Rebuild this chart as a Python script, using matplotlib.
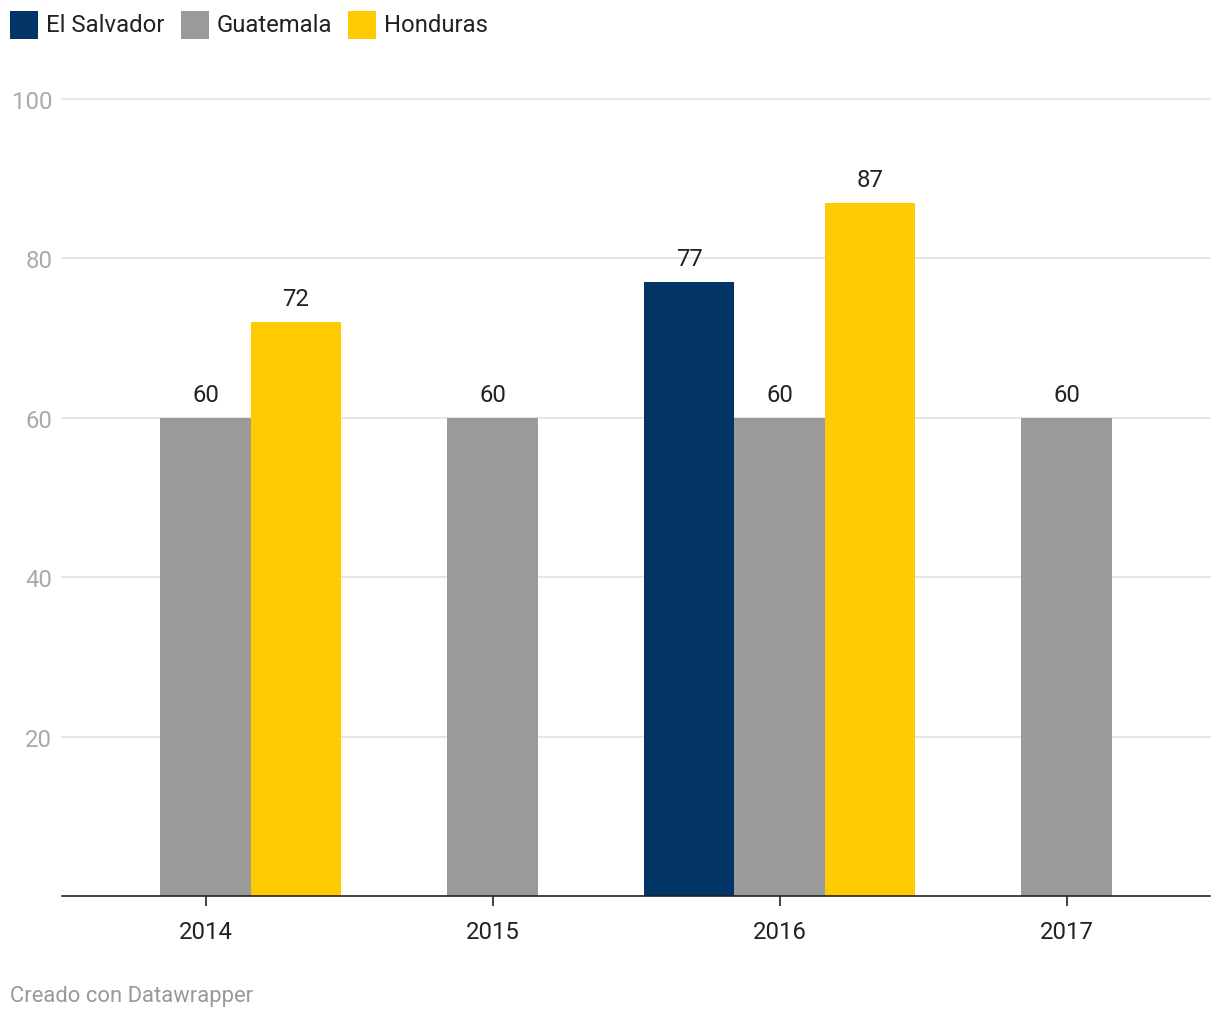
import numpy as np
import matplotlib.pyplot as plt
from matplotlib.patches import Rectangle

plt.rcParams['font.family'] = ['Roboto', 'DejaVu Sans']

# Datos
years = ['2014', '2015', '2016', '2017']
series_names = ['El Salvador', 'Guatemala', 'Honduras']
el_salvador = [None, None, 77, None]
guatemala = [60, 60, 60, 60]
honduras = [72, None, 87, None]
y_ticks = [20, 40, 60, 80, 100]

colors = ['#023465', '#9a9a9a', '#fecb00']
series = [el_salvador, guatemala, honduras]

W, H = 1220, 1020
FS = 17.2
fig = plt.figure(figsize=(W / 100, H / 100), dpi=100, facecolor='white')
ax = fig.add_axes([62 / W, 123 / H, (1210 - 62) / W, 797 / H])
ax.set_xlim(-0.5, len(years) - 0.5)
ax.set_ylim(0, 100)

# Grid
for t in y_ticks:
    ax.axhline(t, color='#e2e2e2', linewidth=1.2, zorder=0, clip_on=False)

bw = 0.315
x = np.arange(len(years))
for i, (vals, col) in enumerate(zip(series, colors)):
    off = (i - 1) * bw
    for xi, v in zip(x, vals):
        if v is None:
            continue
        ax.bar(xi + off, v, width=bw, color=col, zorder=2)
        ax.text(xi + off, v + 1.5, f"{v}", ha='center', va='bottom',
                fontsize=FS, color='#222222')

# Ejes
for s in ['top', 'right', 'left']:
    ax.spines[s].set_visible(False)
ax.spines['bottom'].set_color('#222222')
ax.spines['bottom'].set_linewidth(1.2)
ax.set_xticks(x)
ax.set_xticklabels(years, fontsize=FS, color='#222222')
ax.tick_params(axis='x', length=7, width=1.2, color='#222222', pad=10)
ax.set_yticks(y_ticks)
ax.set_yticklabels([str(t) for t in y_ticks], fontsize=FS, color='#aaaaaa')
ax.tick_params(axis='y', length=0, pad=7)

# Leyenda
lx = 10
for name, col in zip(series_names, colors):
    fig.patches.append(Rectangle((lx / W, 1 - 40 / H), 28 / W, 28 / H,
                                 transform=fig.transFigure, facecolor=col,
                                 edgecolor='none'))
    t = fig.text((lx + 36) / W, 1 - 26 / H, name, fontsize=FS,
                 color='#222222', va='center', ha='left')
    fig.canvas.draw()
    bb = t.get_window_extent()
    lx = bb.x1 + 16

# Pie
fig.text(10 / W, 1 - 997 / H, "Creado con Datawrapper", fontsize=15.8,
         color='#999999', va='center', ha='left')

fig.savefig('out.png', dpi=100, facecolor='white')
